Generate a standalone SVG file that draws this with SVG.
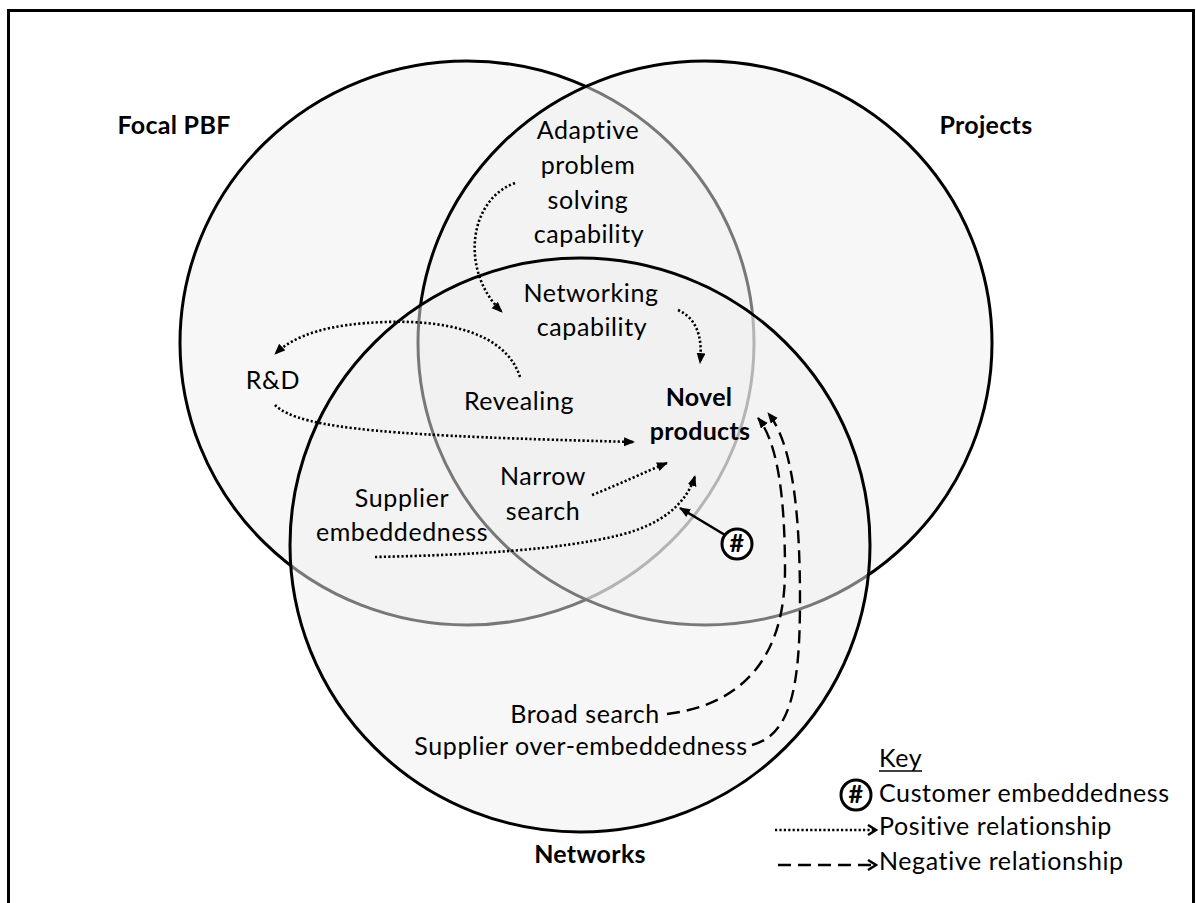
<svg xmlns="http://www.w3.org/2000/svg" width="1196" height="903" viewBox="0 0 1196 903">
  <style>
    .set { fill: #efefef; fill-opacity: 0.5; stroke: #000; stroke-width: 3; }
    .lbl { font-family: Lato, "Liberation Sans", sans-serif; font-size: 25px; letter-spacing: 0.6px; fill: #000; text-anchor: middle; }
    .bold { font-weight: bold; letter-spacing: 0.3px; }
    .start { text-anchor: start; }
    .pos { fill: none; stroke: #000; stroke-width: 2.6; stroke-dasharray: 2.2 2.2; }
    .neg { fill: none; stroke: #000; stroke-width: 2.4; stroke-dasharray: 13 7; }
    .solid { fill: none; stroke: #000; stroke-width: 2.6; }
    .badge { fill: #fff; stroke: #000; stroke-width: 3; }
  </style>
  <defs>
    <marker id="head" markerUnits="userSpaceOnUse" markerWidth="12" markerHeight="10" refX="10" refY="4.5" orient="auto">
      <path d="M0,0 L11,4.5 L0,9 z" fill="#000"/>
    </marker>
    <marker id="chevron" markerUnits="userSpaceOnUse" markerWidth="12" markerHeight="14" refX="9" refY="6" orient="auto">
      <path d="M1,1 L9,6 L1,11" fill="none" stroke="#000" stroke-width="2.5"/>
    </marker>
  </defs>

  <!-- frame -->
  <rect x="8.5" y="10.5" width="1185" height="900" fill="#fff" stroke="#000" stroke-width="3"/>

  <!-- the three overlapping sets -->
  <g id="focal-pbf">
    <ellipse class="set" cx="467" cy="343" rx="287" ry="282"/>
    <text class="lbl bold" x="174" y="134">Focal PBF</text>
  </g>
  <g id="projects">
    <ellipse class="set" cx="705" cy="343" rx="287" ry="282"/>
    <text class="lbl bold" x="986" y="134">Projects</text>
  </g>
  <g id="networks">
    <ellipse class="set" cx="580" cy="545" rx="290" ry="287"/>
    <text class="lbl bold" x="590" y="863">Networks</text>
  </g>

  <!-- factors -->
  <g id="adaptive">
    <text class="lbl" x="588" y="139">Adaptive</text>
    <text class="lbl" x="588" y="174">problem</text>
    <text class="lbl" x="588" y="209">solving</text>
    <text class="lbl" x="589" y="243">capability</text>
  </g>
  <g id="networking">
    <text class="lbl" x="591" y="302">Networking</text>
    <text class="lbl" x="592" y="336">capability</text>
  </g>
  <g id="rnd">
    <text class="lbl" x="273" y="389">R&amp;D</text>
  </g>
  <g id="revealing">
    <text class="lbl" x="519" y="410">Revealing</text>
  </g>
  <g id="novel-products">
    <text class="lbl bold" x="699" y="406">Novel</text>
    <text class="lbl bold" x="700" y="440">products</text>
  </g>
  <g id="narrow-search">
    <text class="lbl" x="543" y="485">Narrow</text>
    <text class="lbl" x="543" y="520">search</text>
  </g>
  <g id="supplier-embeddedness">
    <text class="lbl" x="402" y="507">Supplier</text>
    <text class="lbl" x="402" y="541">embeddedness</text>
  </g>
  <g id="customer-embeddedness">
    <circle class="badge" cx="737" cy="544" r="15"/>
    <text class="lbl bold" x="737" y="552">#</text>
  </g>
  <g id="broad-search">
    <text class="lbl" x="585" y="723">Broad search</text>
  </g>
  <g id="supplier-over-embeddedness">
    <text class="lbl" x="581" y="755">Supplier over-embeddedness</text>
  </g>

  <!-- relationships -->
  <g id="connectors">
    <path class="pos" d="M515,183 C468,200 460,272 502,312" marker-end="url(#head)"/>
    <path class="pos" d="M678,310 C696,318 703,336 700,363" marker-end="url(#head)"/>
    <path class="pos" d="M520,377 C505,330 440,320 385,322 C330,324 296,334 275,354" marker-end="url(#head)"/>
    <path class="pos" d="M275,405 C300,430 400,436 634,442" marker-end="url(#head)"/>
    <path class="pos" d="M592,495 C620,484 645,472 667,463" marker-end="url(#head)"/>
    <path class="pos" d="M375,557 C470,555 560,550 620,535 C660,525 686,505 695,476" marker-end="url(#head)"/>
    <path class="solid" d="M725,535 L680,508" marker-end="url(#head)"/>
    <path class="neg" d="M667,714 C740,705 785,660 785,570 C785,490 776,440 758,418" marker-end="url(#head)"/>
    <path class="neg" d="M752,745 C790,735 800,690 800,600 C800,500 790,440 768,413" marker-end="url(#head)"/>
  </g>

  <!-- key -->
  <g id="key">
    <text class="lbl start" x="879" y="767">Key</text>
    <line x1="879" y1="771" x2="922" y2="771" stroke="#000" stroke-width="1.5"/>
    <circle class="badge" cx="856" cy="795" r="15"/>
    <text class="lbl bold" x="856" y="803">#</text>
    <text class="lbl start" x="879" y="802">Customer embeddedness</text>
    <path class="pos" d="M775,830 L876,830" marker-end="url(#chevron)"/>
    <text class="lbl start" x="879" y="835">Positive relationship</text>
    <path class="neg" d="M778,865 L876,865" stroke-dasharray="22 10 22 10 34" marker-end="url(#chevron)"/>
    <text class="lbl start" x="879" y="870">Negative relationship</text>
  </g>
</svg>
